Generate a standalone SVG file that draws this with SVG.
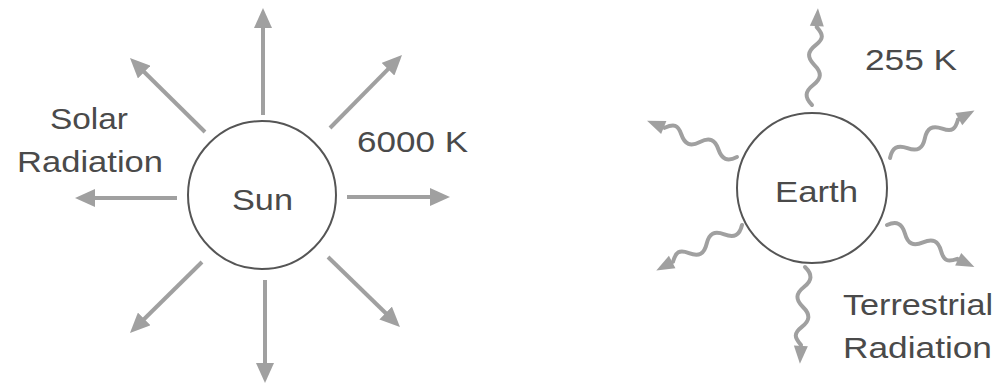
<svg xmlns="http://www.w3.org/2000/svg" width="1002" height="386" viewBox="0 0 1002 386">
<style>
.body{fill:#fff;stroke:#555;stroke-width:2}
.lbl{font-family:"Liberation Sans",Arial,sans-serif;font-size:30px;fill:#4a4a4a}
.ray{stroke:#a0a0a0;stroke-width:4;fill:none;marker-end:url(#ah)}
.wave{stroke:#a0a0a0;stroke-width:4;fill:none;stroke-linecap:round}
.wh{fill:#a0a0a0}
</style>
<defs>
<marker id="ah" viewBox="0 0 20 18" refX="10" refY="9" markerWidth="20" markerHeight="18" markerUnits="userSpaceOnUse" orient="auto">
<path d="M0,0 L20,9 L0,18 Z" fill="#a0a0a0"/>
</marker>
<g id="wv">
<path class="wave" d="M0,0 C7,-8 13,-8 20,0 S33,8 40,0 S53,-8 60,0 S71,7 78,0 L82,0"/>
<polygon class="wh" points="97,0 79,-7 79,7"/>
</g>
</defs>
<rect width="1002" height="386" fill="#fff"/>
<g id="connectors">
<line class="ray" x1="263" y1="115" x2="263" y2="18"/>
<line class="ray" x1="265" y1="280" x2="265" y2="373"/>
<line class="ray" x1="177" y1="198" x2="85" y2="198"/>
<line class="ray" x1="347" y1="197" x2="440" y2="197"/>
<line class="ray" x1="205" y1="132" x2="137.1" y2="65"/>
<line class="ray" x1="330" y1="128" x2="395" y2="62.1"/>
<line class="ray" x1="202" y1="262" x2="137.1" y2="326"/>
<line class="ray" x1="328" y1="257" x2="392.8" y2="320"/>
<use href="#wv" transform="translate(812,105) rotate(-86.5)"/>
<use href="#wv" transform="translate(805,267) rotate(93)"/>
<use href="#wv" transform="translate(737,157) rotate(-158)"/>
<use href="#wv" transform="translate(890,158) rotate(-29.4)"/>
<use href="#wv" transform="translate(742,225) rotate(152.1)"/>
<use href="#wv" transform="translate(887,225) rotate(25.7)"/>
</g>
<g id="sun">
<circle class="body" cx="262" cy="195" r="74"/>
<text class="lbl" x="232" y="210" textLength="61" lengthAdjust="spacingAndGlyphs">Sun</text>
</g>
<g id="earth">
<circle class="body" cx="812" cy="188" r="75"/>
<text class="lbl" x="775" y="202" textLength="83" lengthAdjust="spacingAndGlyphs">Earth</text>
</g>
<g id="labels">
<text class="lbl" x="50" y="129" textLength="78" lengthAdjust="spacingAndGlyphs">Solar</text>
<text class="lbl" x="17" y="172" textLength="146" lengthAdjust="spacingAndGlyphs">Radiation</text>
<text class="lbl" x="357" y="152" textLength="111" lengthAdjust="spacingAndGlyphs">6000 K</text>
<text class="lbl" x="865" y="70" textLength="92" lengthAdjust="spacingAndGlyphs">255 K</text>
<text class="lbl" x="843" y="315" textLength="150" lengthAdjust="spacingAndGlyphs">Terrestrial</text>
<text class="lbl" x="843" y="358" textLength="149" lengthAdjust="spacingAndGlyphs">Radiation</text>
</g>
</svg>
